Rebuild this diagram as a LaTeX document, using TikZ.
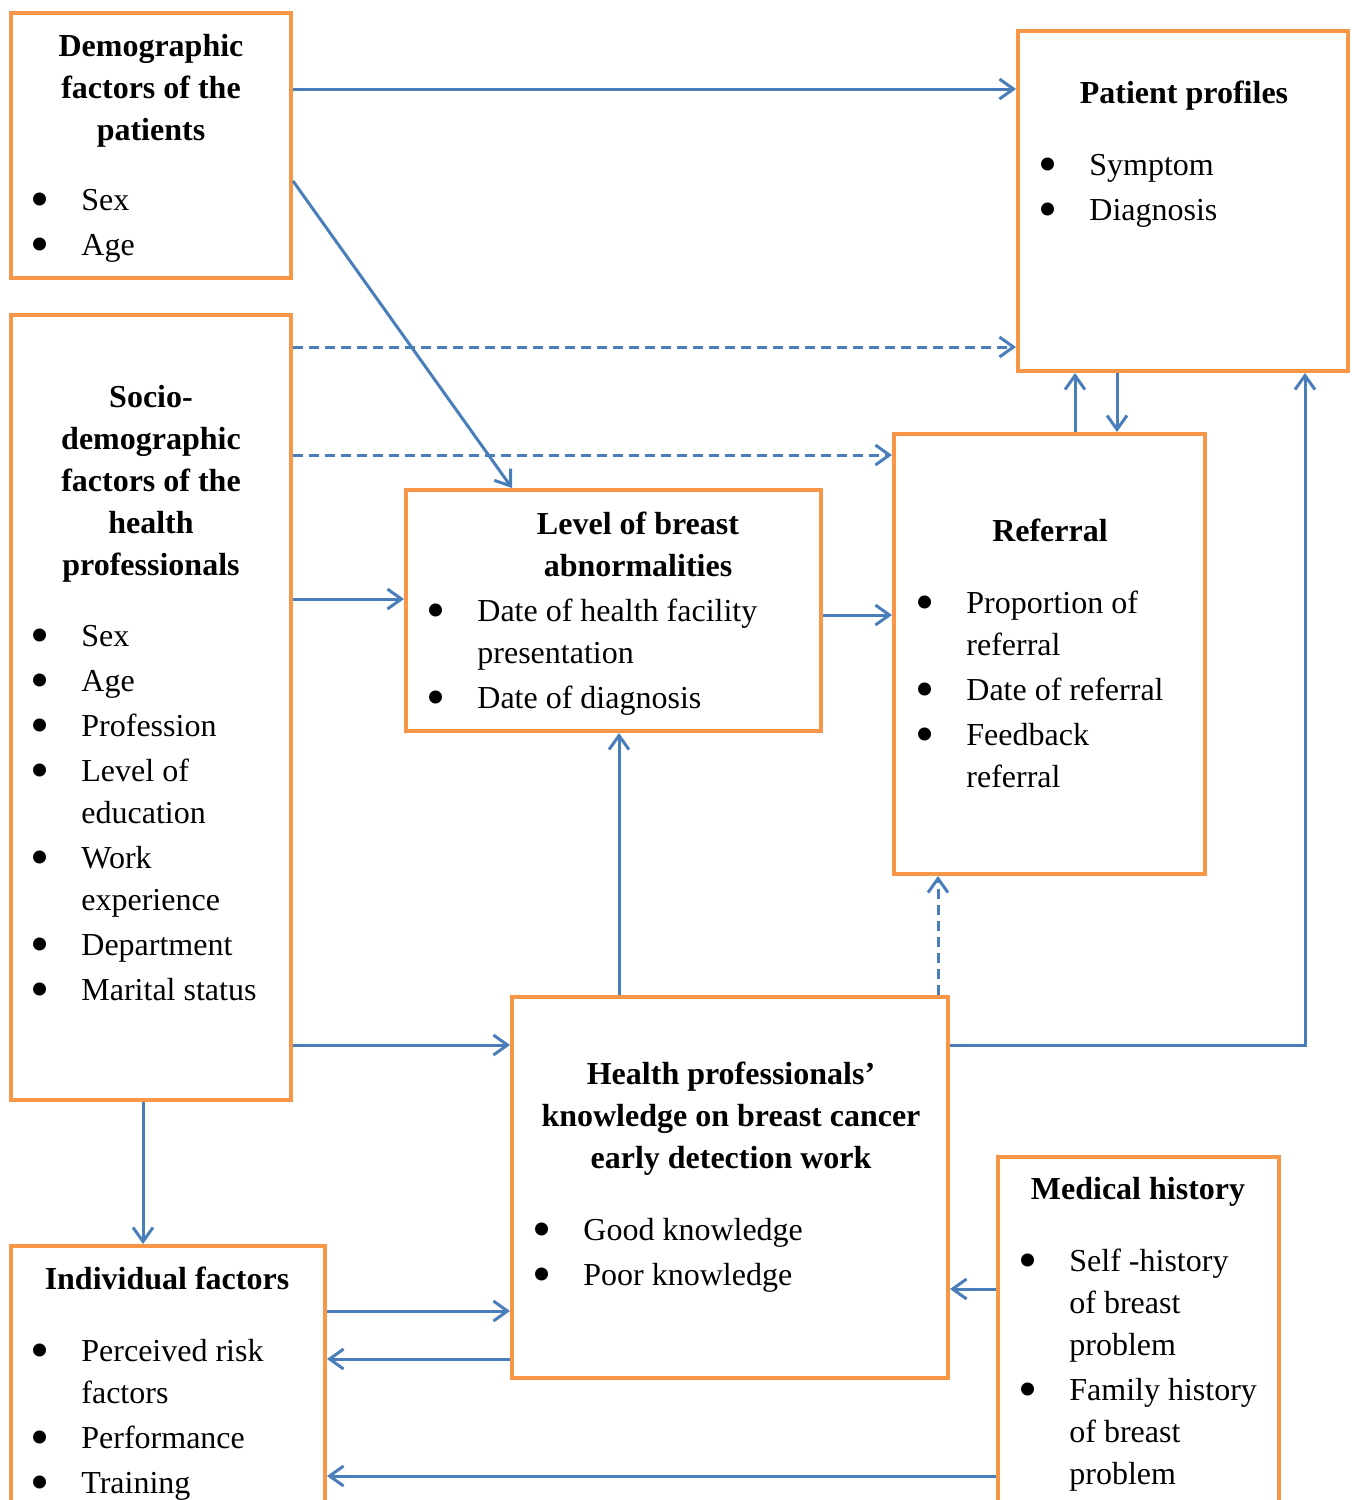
\documentclass[tikz,border=0pt]{standalone}
\usepackage{fontspec}
\setmainfont{Liberation Serif}
\usetikzlibrary{arrows.meta,fit}
\definecolor{boxorange}{HTML}{F79646}
\definecolor{lineblue}{HTML}{4A7EBB}
\newcommand{\bl}{\makebox[23.5pt][l]{\hspace*{-2pt}\smash{\raisebox{-3.4pt}{\scalebox{1.7}{\textbullet}}}}}
\newcommand{\ind}{\hspace*{23.5pt}}

\begin{document}
\begin{tikzpicture}[x=0.5pt,y=-0.5pt,
  box/.style={draw=boxorange,line width=2pt,inner sep=0pt},
  ttl/.style={anchor=north,align=center,inner sep=0pt,font=\fontsize{16}{21}\selectfont\bfseries,execute at begin node=\strut},
  lst/.style={anchor=north west,align=left,inner sep=0pt,font=\fontsize{16}{21}\selectfont},
  arr/.style={draw=lineblue,line width=1.5pt,-{Straight Barb[length=7pt,width=10pt]}},
  dsh/.style={arr,dash pattern=on 5pt off 3pt}]
  \useasboundingbox (0,0) rectangle (1351,1500);
  \clip (0,0) rectangle (1351,1500);

  % boxes
  \node[box,fit={(11,13) (291,278)}] (demo) {};
  \node[box,fit={(11,315) (291,1100)}] (socio) {};
  \node[box,fit={(1018,31) (1348,371)}] (prof) {};
  \node[box,fit={(894,434) (1205,874)}] (refer) {};
  \node[box,fit={(406,490) (821,731)}] (abn) {};
  \node[box,fit={(512,997) (948,1378)}] (know) {};
  \node[box,fit={(998,1157) (1279,1530)}] (med) {};
  \node[box,fit={(11,1246) (325,1530)}] (indiv) {};

  % texts
  \node[ttl] (demo-t) at (151,33.6) {Demographic\\factors of the\\patients};
  \node[lst] (demo-l) at (34,189) {\bl Sex\\[1.5pt]\bl Age};

  \node[ttl] (socio-t) at (151,384.6) {Socio-\\demographic\\factors of the\\health\\professionals};
  \node[lst] (socio-l) at (34,625) {\bl Sex\\[1.5pt]\bl Age\\[1.5pt]\bl Profession\\[1.5pt]\bl Level of\\\ind education\\[1.5pt]\bl Work\\\ind experience\\[1.5pt]\bl Department\\[1.5pt]\bl Marital status};

  \node[ttl] (prof-t) at (1184,73.6) {Patient profiles};
  \node[lst] (prof-l) at (1042,154) {\bl Symptom\\[1.5pt]\bl Diagnosis};

  \node[ttl] (refer-t) at (1050,511.6) {Referral};
  \node[lst] (refer-l) at (919,591) {\bl Proportion of\\\ind referral\\[1.5pt]\bl Date of referral\\[1.5pt]\bl Feedback\\\ind referral};

  \node[ttl] (abn-t) at (638,511.6) {Level of breast\\abnormalities};
  \node[lst] (abn-l) at (430,599) {\bl Date of health facility\\\ind presentation\\[1.5pt]\bl Date of diagnosis};

  \node[ttl] (know-t) at (731,1061.6) {Health professionals’\\knowledge on breast cancer\\early detection work};
  \node[lst] (know-l) at (536,1218) {\bl Good knowledge\\[1.5pt]\bl Poor knowledge};

  \node[ttl] (med-t) at (1138,1169.6) {Medical history};
  \node[lst] (med-l) at (1022,1249) {\bl Self -history\\\ind of breast\\\ind problem\\[1.5pt]\bl Family history\\\ind of breast\\\ind problem};

  \node[ttl] (indiv-t) at (167,1259.6) {Individual factors};
  \node[lst] (indiv-l) at (34,1339) {\bl Perceived risk\\\ind factors\\[1.5pt]\bl Performance\\[1.5pt]\bl Training};

  % connectors
  \draw[arr] (demo.east |- 0,89) -- (prof.west |- 0,89);
  \draw[arr] (demo.east |- 0,181) -- (512,0 |- abn.north);
  \draw[dsh] (socio.east |- 0,347) -- (prof.west |- 0,347);
  \draw[dsh] (socio.east |- 0,455) -- (refer.west |- 0,455);
  \draw[arr] (socio.east |- 0,599) -- (abn.west |- 0,599);
  \draw[arr] (abn.east |- 0,615) -- (refer.west |- 0,615);
  \draw[arr] (1075,0 |- refer.north) -- (1075,0 |- prof.south);
  \draw[arr] (1117,0 |- prof.south) -- (1117,0 |- refer.north);
  \draw[arr] (619,0 |- know.north) -- (619,0 |- abn.south);
  \draw[dsh] (938,0 |- know.north) -- (938,0 |- refer.south);
  \draw[arr] (know.east |- 0,1045) -| (1305,0 |- prof.south);
  \draw[arr] (socio.east |- 0,1045) -- (know.west |- 0,1045);
  \draw[arr] (143,0 |- socio.south) -- (143,0 |- indiv.north);
  \draw[arr] (indiv.east |- 0,1311) -- (know.west |- 0,1311);
  \draw[arr] (know.west |- 0,1359) -- (indiv.east |- 0,1359);
  \draw[arr] (med.west |- 0,1289) -- (know.east |- 0,1289);
  \draw[arr] (med.west |- 0,1476) -- (indiv.east |- 0,1476);
\end{tikzpicture}
\end{document}
